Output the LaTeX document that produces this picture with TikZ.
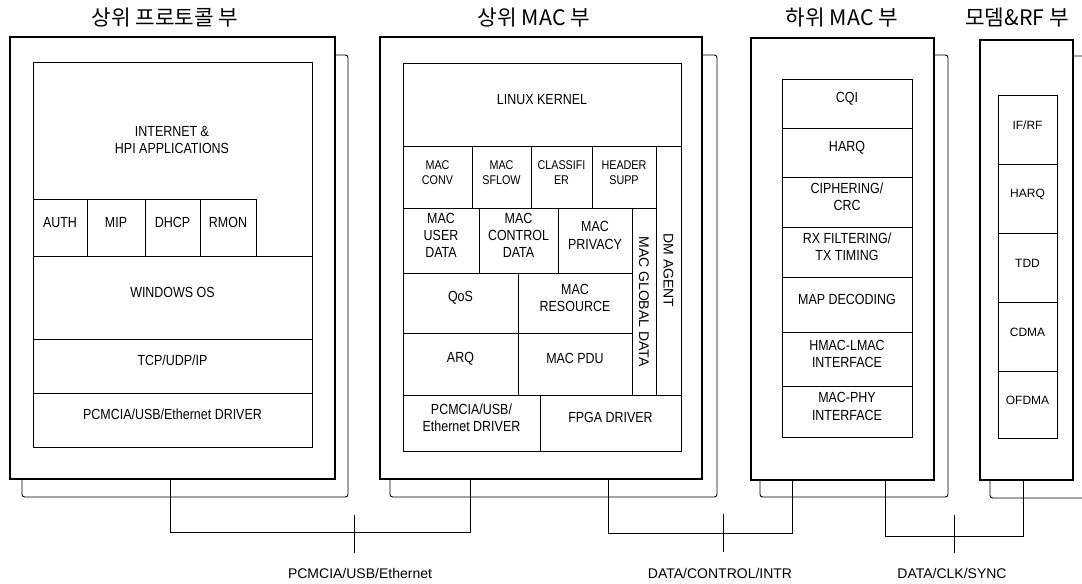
\documentclass[tikz,border=0pt]{standalone}
\usepackage{fontspec}
\setmainfont{Liberation Sans}
\newfontfamily\narrowfont[FakeStretch=0.85]{Liberation Sans}
\newfontfamily\krfont{Noto Sans CJK KR}
\usetikzlibrary{fit}
\tikzset{
  outerbox/.style={draw, line width=1.6pt, fill=white, inner sep=0pt},
  shadowbox/.style={draw, line width=0.7pt, inner sep=0pt, rounded corners=2pt},
  cell/.style={draw, line width=0.7pt, inner sep=0pt, align=center, font=\narrowfont\fontsize{11}{13}\selectfont},
  smallcell/.style={cell, font=\narrowfont\fontsize{9.5}{11.5}\selectfont},
  rfcell/.style={cell, font=\fontsize{9}{11}\selectfont},
  plaintext/.style={align=center, inner sep=0pt, font=\narrowfont\fontsize{11}{13}\selectfont},
  vtext/.style={rotate=-90, inner sep=0pt, font=\fontsize{10.5}{12}\selectfont},
  titletext/.style={font=\krfont\fontsize{16}{18}\selectfont, inner sep=0pt},
  buslabel/.style={font=\fontsize{10.5}{12}\selectfont, inner sep=0pt},
  conn/.style={line width=0.7pt},
}
\begin{document}
\begin{tikzpicture}[x=0.75pt,y=-0.75pt]
\useasboundingbox[fill=white] (0,0) rectangle (1082,583);

% ---------- titles ----------
\node[titletext] (h1) at (165,18) {상위 프로토콜 부};
\node[titletext] (h2) at (534,18) {상위 MAC 부};
\node[titletext] (h3) at (842,18) {하위 MAC 부};
\node[titletext] (h4) at (1017,18) {모뎀\&RF 부};

% ---------- shadow and outer boxes ----------
\node[shadowbox, fit={(22,55) (348,497)}] (s1) {};
\node[outerbox, fit={(10,37) (335,479)}] (o1) {};
\node[shadowbox, fit={(390,55) (717,497)}] (s2) {};
\node[outerbox, fit={(380,37) (702,479)}] (o2) {};
\node[shadowbox, fit={(760,55) (948,497)}] (s3) {};
\node[outerbox, fit={(751,38) (934,480)}] (o3) {};
\node[shadowbox, fit={(990,56) (1100,498)}] (s4) {};
\node[outerbox, fit={(980,40) (1073,480)}] (o4) {};

% ---------- panel 1 ----------
\node[cell, fit={(33,62) (312,256)}] (app) {};
\node[plaintext] (apptxt) at (172,140) {INTERNET \&\\HPI APPLICATIONS};
\node[cell, fit={(33,199) (87,256)}] (auth) {AUTH};
\node[cell, fit={(87,199) (145,256)}] (mip) {MIP};
\node[cell, fit={(145,199) (200,256)}] (dhcp) {DHCP};
\node[cell, fit={(200,199) (256,256)}] (rmon) {RMON};
\node[cell, fit={(33,256) (312,339)}] (win) {WINDOWS OS};
\node[cell, fit={(33,339) (312,393)}] (tcp) {TCP/UDP/IP};
\node[cell, fit={(33,393) (312,447)}] (drv1) {PCMCIA/USB/Ethernet DRIVER};

% ---------- panel 2 ----------
\node[cell, fit={(403,63) (681,146)}] (lk) {LINUX KERNEL};
\node[smallcell, fit={(403,146) (472,208)}] (conv) {MAC\\CONV};
\node[smallcell, fit={(472,146) (531,208)}] (sflow) {MAC\\SFLOW};
\node[smallcell, fit={(531,146) (592,208)}] (cls) {CLASSIFI\\ER};
\node[smallcell, fit={(592,146) (656,208)}] (hdr) {HEADER\\SUPP};
\node[cell, fit={(656,146) (681,395)}] (dm) {};
\node[vtext] (dmtxt) at (dm.center) {DM AGENT};
\node[cell, fit={(632,208) (656,395)}] (mgd) {};
\node[vtext] (mgdtxt) at (mgd.center) {MAC GLOBAL DATA};
\node[cell, fit={(403,208) (479,273)}] (ud) {MAC\\USER\\DATA};
\node[cell, fit={(479,208) (558,273)}] (cd) {MAC\\CONTROL\\DATA};
\node[cell, fit={(558,208) (632,273)}] (pv) {MAC\\PRIVACY};
\node[cell, fit={(403,273) (518,333)}] (qos) {QoS};
\node[cell, fit={(518,273) (632,333)}] (res) {MAC\\RESOURCE};
\node[cell, fit={(403,333) (518,395)}] (arq) {ARQ};
\node[cell, fit={(518,333) (632,395)}] (pdu) {MAC PDU};
\node[cell, fit={(403,395) (540,451)}] (drv2) {PCMCIA/USB/\\Ethernet DRIVER};
\node[cell, fit={(540,395) (681,451)}] (fpga) {FPGA DRIVER};

% ---------- panel 3 ----------
\node[cell, fit={(782,79) (912,128)}] (cqi) {CQI};
\node[cell, fit={(782,128) (912,177)}] (harq) {HARQ};
\node[cell, fit={(782,177) (912,227)}] (ciph) {CIPHERING/\\CRC};
\node[cell, fit={(782,227) (912,277)}] (rx) {RX FILTERING/\\TX TIMING};
\node[cell, fit={(782,277) (912,332)}] (map) {MAP DECODING};
\node[cell, fit={(782,332) (912,386)}] (hl) {HMAC-LMAC\\INTERFACE};
\node[cell, fit={(782,386) (912,437)}] (mp) {MAC-PHY\\INTERFACE};

% ---------- panel 4 ----------
\node[rfcell, fit={(998,95) (1057,164)}] (ifrf) {IF/RF};
\node[rfcell, fit={(998,164) (1057,233)}] (harq2) {HARQ};
\node[rfcell, fit={(998,233) (1057,302)}] (tdd) {TDD};
\node[rfcell, fit={(998,302) (1057,371)}] (cdma) {CDMA};
\node[rfcell, fit={(998,371) (1057,438)}] (ofdma) {OFDMA};

% ---------- buses ----------
\coordinate (b1a) at (170,532);
\coordinate (b1b) at (470,532);
\coordinate (t1a) at (354,515);
\coordinate (t1b) at (354,553);
\draw[conn] (o1.south -| b1a) -- (b1a) -- (b1b) -- (o2.south -| b1b);
\draw[conn] (t1a) -- (t1b);
\node[buslabel] (l1) at (360,573) {PCMCIA/USB/Ethernet};

\coordinate (b2a) at (608,533);
\coordinate (b2b) at (792,533);
\coordinate (t2a) at (723,514);
\coordinate (t2b) at (723,552);
\draw[conn] (o2.south -| b2a) -- (b2a) -- (b2b) -- (o3.south -| b2b);
\draw[conn] (t2a) -- (t2b);
\node[buslabel] (l2) at (720,573) {DATA/CONTROL/INTR};

\coordinate (b3a) at (885,536);
\coordinate (b3b) at (1023,536);
\coordinate (t3a) at (954,515);
\coordinate (t3b) at (954,553);
\draw[conn] (o3.south -| b3a) -- (b3a) -- (b3b) -- (o4.south -| b3b);
\draw[conn] (t3a) -- (t3b);
\node[buslabel] (l3) at (952,573) {DATA/CLK/SYNC};
\end{tikzpicture}
\end{document}
